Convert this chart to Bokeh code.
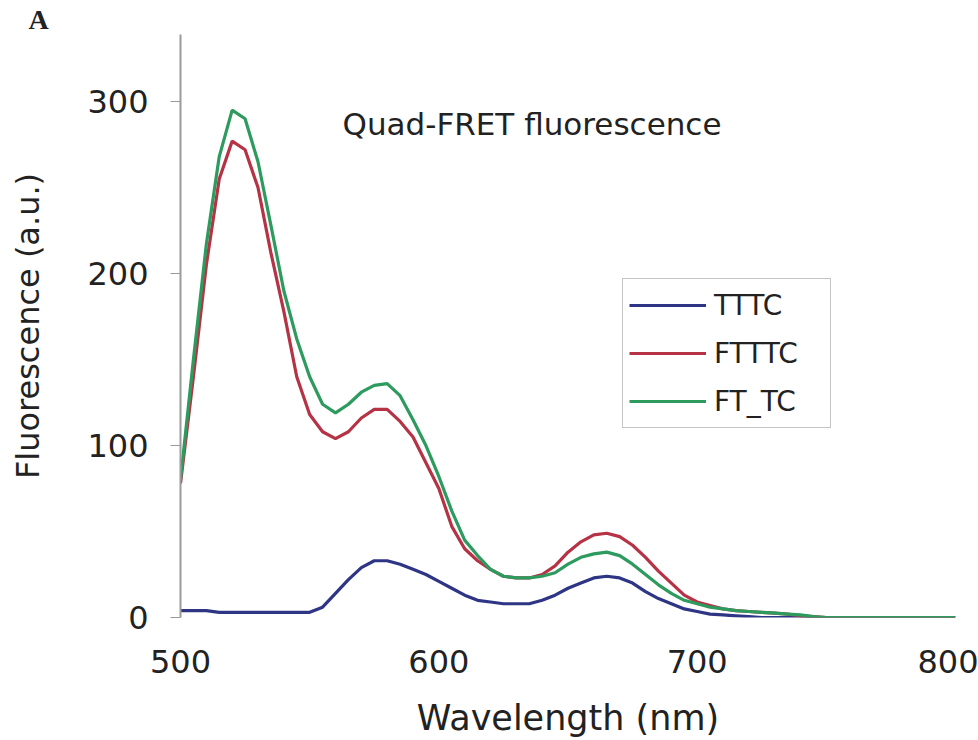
import numpy as np
from bokeh.plotting import figure
from bokeh.models import Range1d, FixedTicker, Legend, LegendItem, Label, Title
from bokeh.embed import file_html
from bokeh.resources import INLINE

# ---- data ----
wavelength = list(range(500, 805, 5))

tttc = [4, 4, 4, 3, 3, 3, 3, 3, 3, 3, 3, 6, 14, 22, 29, 33, 33, 31, 28, 25,
        21, 17, 13, 10, 9, 8, 8, 8, 10, 13, 17, 20, 23, 24, 23, 20, 15, 11, 8, 5,
        3.5, 2, 1.5, 1, 0.5, 0,
        0, 0, 0, 0, 0, 0, 0, 0, 0, 0, 0, 0, 0, 0, 0]

ftttc = [78, 140, 205, 255, 277, 272, 250, 212, 178, 140, 118, 108, 104, 108, 116, 121, 121, 114, 105, 90,
         75, 53, 40, 33, 28, 24, 23, 23, 25, 30, 38, 44, 48, 49, 47, 42, 35, 27, 20, 13,
         9, 7, 5, 4, 3.5, 3, 2.5, 2, 1, 0.5, 0,
         0, 0, 0, 0, 0, 0, 0, 0, 0, 0]

ft_tc = [80, 150, 217, 268, 295, 290, 265, 228, 190, 162, 140, 124, 119, 124, 131, 135, 136, 129, 115, 100,
         82, 62, 45, 36, 28, 24, 23, 23, 24, 26, 31, 35, 37, 38, 36, 31, 25, 19, 14, 10,
         8, 6, 5, 4, 3.5, 3, 2.5, 2, 1.5, 0.5, 0,
         0, 0, 0, 0, 0, 0, 0, 0, 0, 0]

series_names = ["TTTC", "FTTTC", "FT_TC"]
x_ticks = [500, 600, 700, 800]
y_ticks = [0, 100, 200, 300]

colors = ["#2f3585", "#b53345", "#2d9a5e"]
FONT = "DejaVu Sans"

p = figure(width=978, height=740, output_backend="svg", toolbar_location=None,
           x_range=Range1d(500, 800), y_range=Range1d(0, 339),
           min_border_left=180, min_border_right=23, min_border_top=34, min_border_bottom=123)
p.background_fill_color = "white"
p.border_fill_color = "white"
p.outline_line_color = None
p.xgrid.visible = False
p.ygrid.visible = False

renderers = []
for ys, c in zip([tttc, ftttc, ft_tc], colors):
    r = p.line(wavelength, ys, line_color=c, line_width=3.2)
    renderers.append(r)

# x axis
p.xaxis.ticker = FixedTicker(ticks=x_ticks)
p.xaxis.axis_line_color = None
p.xaxis.major_tick_line_color = None
p.xaxis.minor_tick_line_color = None
p.xaxis.major_tick_out = 0
p.xaxis.major_tick_in = 0
p.xaxis.major_label_standoff = 32
p.xaxis.major_label_text_font = FONT
p.xaxis.major_label_text_font_size = "32px"
p.xaxis.major_label_text_color = "#222222"
p.xaxis.axis_label = "Wavelength (nm)"
p.xaxis.axis_label_text_font = FONT
p.xaxis.axis_label_text_font_size = "35px"
p.xaxis.axis_label_text_font_style = "normal"
p.xaxis.axis_label_text_color = "#222222"
p.xaxis.axis_label_standoff = 22

# y axis
p.yaxis.ticker = FixedTicker(ticks=y_ticks)
p.yaxis.axis_line_color = "#9a9a9a"
p.yaxis.axis_line_width = 2
p.yaxis.major_tick_line_color = "#9a9a9a"
p.yaxis.major_tick_line_width = 1
p.yaxis.major_tick_out = 10
p.yaxis.major_tick_in = 0
p.yaxis.minor_tick_line_color = None
p.yaxis.major_label_standoff = 22
p.yaxis.major_label_text_font = FONT
p.yaxis.major_label_text_font_size = "32px"
p.yaxis.major_label_text_color = "#222222"
p.yaxis.axis_label = "Fluorescence (a.u.)"
p.yaxis.axis_label_text_font = FONT
p.yaxis.axis_label_text_font_size = "32px"
p.yaxis.axis_label_text_font_style = "normal"
p.yaxis.axis_label_text_color = "#222222"
p.yaxis.axis_label_standoff = 37

# legend
items = [LegendItem(label=n, renderers=[r]) for n, r in zip(series_names, renderers)]
legend = Legend(items=items, location=(442, 189),
                glyph_width=77, glyph_height=40, label_height=40, label_width=110,
                label_standoff=8, spacing=8, padding=6, margin=0,
                label_text_font=FONT, label_text_font_size="28px", label_text_color="#222222",
                border_line_color="#8a8a8a", border_line_width=1.5,
                background_fill_color="white", background_fill_alpha=1.0)
p.add_layout(legend, "center")

# title inside plot
title = Label(x=162, y=494, x_units="screen", y_units="screen",
              text="Quad-FRET fluorescence", text_font=FONT, text_font_size="31px",
              text_color="#222222", text_baseline="alphabetic", text_align="left")
p.add_layout(title)

# panel letter
panel = Title(text="A", align="left", offset=-152, standoff=0,
              text_font="Liberation Serif", text_font_size="28px",
              text_font_style="bold", text_color="#222222")
p.add_layout(panel, "above")

open("out.html", "w").write(file_html(p, INLINE))
